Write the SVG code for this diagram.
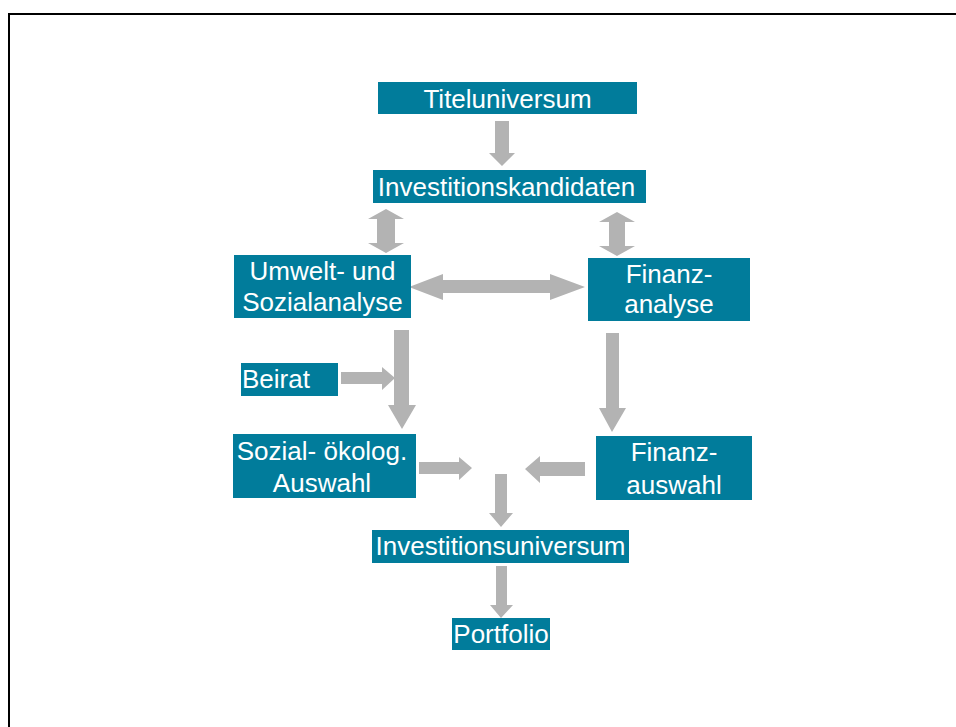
<svg xmlns="http://www.w3.org/2000/svg" width="956" height="727" viewBox="0 0 956 727">
  <style>
    .box { fill: #017c9b; }
    .lbl { fill: #ffffff; font-family: "Liberation Sans", Arial, sans-serif; font-size: 26px; }
    .mid { text-anchor: middle; }
    .arrow { fill: #b3b3b3; }
  </style>
  <rect width="956" height="727" fill="#ffffff"/>
  <!-- page frame, running off the right and bottom edges -->
  <rect x="9" y="14" width="1000" height="800" fill="none" stroke="#000000" stroke-width="2"/>

  <g id="connectors">
    <polygon class="arrow" points="495,121 509,121 509,153 515,153 502,166 489,153 495,153"/>
    <polygon class="arrow" points="386,209 404,219 395,219 395,243 404,243 386,253 368,243 377,243 377,219 368,219"/>
    <polygon class="arrow" points="617,212 635,222 625,222 625,246 635,246 617,256 599,246 609,246 609,222 599,222"/>
    <polygon class="arrow" points="409,287 443,274 443,280 550,280 550,274 585,287 550,300 550,293 443,293 443,300"/>
    <polygon class="arrow" points="394,330 409,330 409,405 416,405 402,429 388,405 394,405"/>
    <polygon class="arrow" points="606,333 619,333 619,408 626,408 612,432 599,408 606,408"/>
    <polygon class="arrow" points="341,372 382,372 382,367 395,378 382,390 382,384 341,384"/>
    <polygon class="arrow" points="419,462 459,462 459,457 472,468 459,480 459,474 419,474"/>
    <polygon class="arrow" points="585,462 585,476 540,476 540,483 525,469 540,456 540,462"/>
    <polygon class="arrow" points="495,474 507,474 507,513 513,513 501,527 489,513 495,513"/>
    <polygon class="arrow" points="496,566 507,566 507,605 513,605 501,618 490,605 496,605"/>
  </g>

  <g id="titeluniversum">
    <rect class="box" x="378" y="82" width="259" height="32"/>
    <text class="lbl mid" x="507.5" y="108">Titeluniversum</text>
  </g>
  <g id="investitionskandidaten">
    <rect class="box" x="373" y="170" width="273" height="33"/>
    <text class="lbl mid" x="506.5" y="196">Investitionskandidaten</text>
  </g>
  <g id="umweltanalyse">
    <rect class="box" x="234" y="255" width="177" height="63"/>
    <text class="lbl mid" x="322.5" y="280">Umwelt- und</text>
    <text class="lbl mid" x="322.5" y="311">Sozialanalyse</text>
  </g>
  <g id="finanzanalyse">
    <rect class="box" x="588" y="258" width="162" height="63"/>
    <text class="lbl mid" x="669" y="283">Finanz-</text>
    <text class="lbl mid" x="669" y="313">analyse</text>
  </g>
  <g id="beirat">
    <rect class="box" x="241" y="363" width="97" height="33"/>
    <text class="lbl" x="242" y="388">Beirat</text>
  </g>
  <g id="sozialauswahl">
    <rect class="box" x="233" y="434" width="183" height="64"/>
    <text class="lbl mid" x="322" y="460">Sozial- ökolog.</text>
    <text class="lbl mid" x="322" y="492">Auswahl</text>
  </g>
  <g id="finanzauswahl">
    <rect class="box" x="596" y="436" width="156" height="64"/>
    <text class="lbl mid" x="674" y="461">Finanz-</text>
    <text class="lbl mid" x="674" y="494">auswahl</text>
  </g>
  <g id="investitionsuniversum">
    <rect class="box" x="372" y="530" width="257" height="33"/>
    <text class="lbl mid" x="500.5" y="555">Investitionsuniversum</text>
  </g>
  <g id="portfolio">
    <rect class="box" x="452" y="618" width="98" height="32"/>
    <text class="lbl mid" x="501" y="643">Portfolio</text>
  </g>
</svg>
